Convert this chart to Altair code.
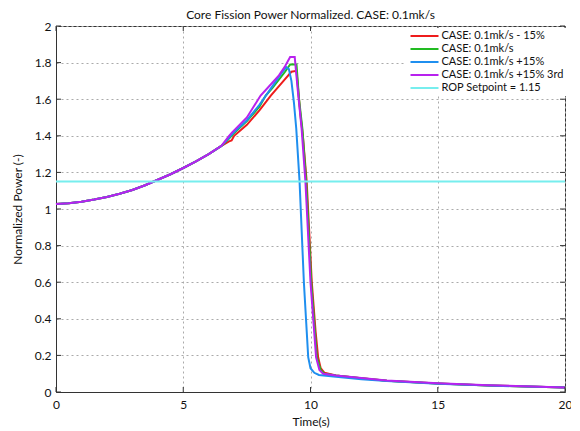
import altair as alt
import pandas as pd

# ---- data ----
t_common = [0.0, 0.5, 1.0, 1.5, 2.0, 2.5, 3.0, 3.5, 4.0, 4.5, 5.0, 5.5, 6.0, 6.5]
v_common = [1.027, 1.032, 1.04, 1.052, 1.066, 1.083, 1.104, 1.13, 1.16, 1.19, 1.224, 1.26, 1.30, 1.345]

t_red = [6.8, 6.9, 7.0, 7.5, 8.0, 8.44, 9.0, 9.25, 9.45, 9.6, 9.7, 9.85, 10.05, 10.2, 10.3, 10.4, 10.55,
         11.0, 12.0, 13.0, 15.0, 17.0, 20.0]
v_red = [1.37, 1.375, 1.40, 1.46, 1.54, 1.62, 1.71, 1.75, 1.755, 1.52, 1.40, 1.15, 0.60, 0.33, 0.19, 0.13, 0.105,
         0.09, 0.075, 0.062, 0.047, 0.036, 0.025]

t_green = [6.8, 7.0, 7.5, 8.0, 8.24, 8.5, 9.0, 9.2, 9.45, 9.55, 9.68, 9.83, 10.03, 10.25, 10.4, 10.55,
           11.0, 12.0, 13.0, 15.0, 17.0, 20.0]
v_green = [1.385, 1.415, 1.48, 1.56, 1.62, 1.66, 1.75, 1.79, 1.79, 1.60, 1.44, 1.15, 0.60, 0.19, 0.12, 0.10,
           0.09, 0.075, 0.062, 0.047, 0.036, 0.025]

t_blue = [6.8, 7.0, 7.5, 8.0, 8.5, 8.9, 9.05, 9.15, 9.25, 9.35, 9.44, 9.57, 9.74, 9.91, 10.0, 10.15, 10.33,
          11.0, 12.0, 13.0, 15.0, 17.0, 20.0]
v_blue = [1.39, 1.42, 1.485, 1.57, 1.67, 1.75, 1.775, 1.765, 1.70, 1.58, 1.44, 1.15, 0.60, 0.19, 0.13, 0.105, 0.093,
          0.083, 0.07, 0.06, 0.045, 0.035, 0.024]

t_purple = [6.8, 6.93, 7.5, 8.04, 8.5, 8.76, 9.0, 9.2, 9.38, 9.5, 9.65, 9.8, 10.0, 10.22, 10.35, 10.5,
            11.0, 12.0, 13.0, 15.0, 17.0, 20.0]
v_purple = [1.40, 1.42, 1.50, 1.62, 1.69, 1.73, 1.78, 1.83, 1.83, 1.65, 1.44, 1.15, 0.60, 0.19, 0.12, 0.10,
            0.09, 0.076, 0.063, 0.048, 0.037, 0.025]

setpoint = 1.15
t_range = [0.0, 20.0]

names = ["CASE: 0.1mk/s - 15%", "CASE: 0.1mk/s", "CASE: 0.1mk/s +15%",
         "CASE: 0.1mk/s +15% 3rd", "ROP Setpoint = 1.15"]
colors = ["#ee1c1c", "#22bb22", "#1f8fef", "#b822ee", "#77eeee"]

x_ticks = [0, 5, 10, 15, 20]
y_ticks = [0, 0.2, 0.4, 0.6, 0.8, 1.0, 1.2, 1.4, 1.6, 1.8, 2.0]

# ---- build table ----
rows = []
series = [(t_red, v_red), (t_green, v_green), (t_blue, v_blue), (t_purple, v_purple)]
for i, (ts, vs) in enumerate(series):
    for t, v in zip(t_common + ts, v_common + vs):
        rows.append({"t": t, "v": v, "series": names[i], "order": i})
for t in t_range:
    rows.append({"t": t, "v": setpoint, "series": names[4], "order": 4})
df = pd.DataFrame(rows)

W, H = 509, 366
xs = alt.Scale(domain=[0, 20], nice=False)
ys = alt.Scale(domain=[0, 2], nice=False)

x_axis = alt.Axis(values=x_ticks, grid=True, ticks=False, labelPadding=7, titlePadding=6,
                  labelFlush=False, labelOverlap=False, format="~g")
y_axis = alt.Axis(values=y_ticks, grid=True, ticks=False, labelPadding=5, titlePadding=10,
                  labelFlush=False, labelOverlap=False, format="~g")

base = alt.Chart(df)
lines = base.mark_line(strokeWidth=2).encode(
    x=alt.X("t:Q", scale=xs, title="Time(s)", axis=x_axis),
    y=alt.Y("v:Q", scale=ys, title="Normalized Power (-)", axis=y_axis),
    color=alt.Color("series:N", scale=alt.Scale(domain=names, range=colors),
                    legend=alt.Legend(title=None, orient="none", legendX=350, legendY=2,
                                      symbolType="M-1,0H7", symbolSize=49, symbolStrokeWidth=2,
                                      labelFontSize=11, labelOffset=22, rowPadding=1,
                                      fillColor="white", padding=2.5, labelLimit=200)),
    detail="series:N",
    order="order:Q",
)

xt = pd.DataFrame({"x": x_ticks})
yt = pd.DataFrame({"y": y_ticks})
tick_col = "#333333"
xb = alt.Chart(xt).mark_rule(color=tick_col).encode(
    x=alt.X("x:Q", scale=xs, title="Time(s)", axis=x_axis), y=alt.value(H), y2=alt.value(H - 5))
xtp = alt.Chart(xt).mark_rule(color=tick_col).encode(
    x=alt.X("x:Q", scale=xs, title="Time(s)", axis=x_axis), y=alt.value(0), y2=alt.value(5))
yl = alt.Chart(yt).mark_rule(color=tick_col).encode(
    y=alt.Y("y:Q", scale=ys, title="Normalized Power (-)", axis=y_axis), x=alt.value(0), x2=alt.value(5))
yr = alt.Chart(yt).mark_rule(color=tick_col).encode(
    y=alt.Y("y:Q", scale=ys, title="Normalized Power (-)", axis=y_axis), x=alt.value(W - 5), x2=alt.value(W))

chart = alt.layer(lines, xb, xtp, yl, yr).properties(
    width=W, height=H,
    title=alt.TitleParams("Core Fission Power Normalized. CASE: 0.1mk/s", fontSize=12,
                          fontWeight="normal", anchor="middle", offset=9, frame="group",
                          dy=11, color="#111"),
    autosize=alt.AutoSizeParams(type="none"),
    padding={"left": 48, "top": 18, "right": 6, "bottom": 40},
).configure(font="Lato").configure_axis(
    domainColor=tick_col, labelFontSize=12, titleFontSize=12, titleFontWeight="normal",
    labelColor="#111", titleColor="#111", gridColor="#aaaaaa", gridDash=[2, 3], gridWidth=1,
).configure_view(stroke=tick_col, strokeWidth=1).configure_legend(labelColor="#111")

chart.save("out.html", embed_options={"renderer": "svg", "actions": False})
